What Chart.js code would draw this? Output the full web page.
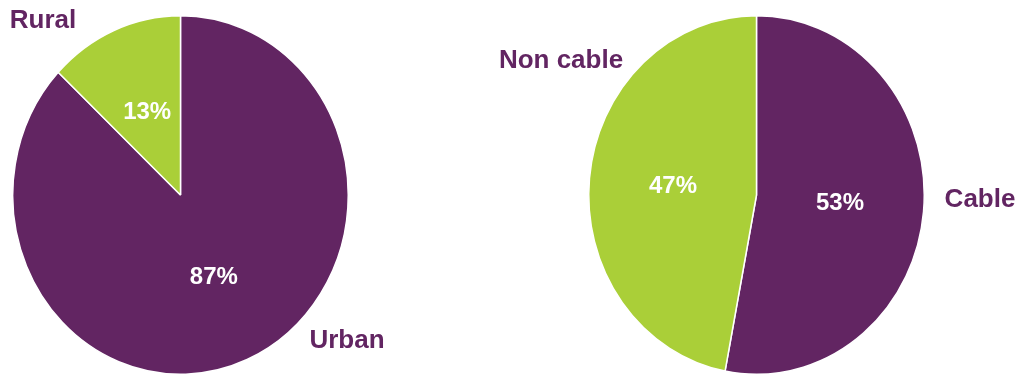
<!DOCTYPE html>
<html>
<head>
<meta charset="utf-8">
<script src="https://cdn.jsdelivr.net/npm/chart.js@4"></script>
<style>
  html, body { margin: 0; padding: 0; background: #ffffff; overflow: hidden; }
  #left { position: absolute; left: 0; top: 0; }
  #right { position: absolute; left: 400px; top: 0; }
</style>
</head>
<body>
<canvas id="left" width="400" height="374"></canvas>
<canvas id="right" width="625" height="374"></canvas>
<script>
// ---- data ----
const areaLabels = ['Urban', 'Rural'];
const areaValues = [87, 13];
const cableLabels = ['Cable', 'Non cable'];
const cableValues = [53, 47];

// ---- style ----
const PURPLE = '#622562';
const GREEN = '#AACF38';
const FONT = '"Liberation Sans", Arial, sans-serif';
const STRETCH_Y = 1.069; // pie is drawn slightly taller than wide

const ellipsePlugin = {
  id: 'ellipse',
  beforeDatasetsDraw(chart) {
    const meta = chart.getDatasetMeta(0);
    const arc = meta.data[0];
    const ctx = chart.ctx;
    ctx.save();
    ctx.translate(arc.x, arc.y);
    ctx.scale(1, STRETCH_Y);
    ctx.translate(-arc.x, -arc.y);
  },
  afterDatasetsDraw(chart) {
    chart.ctx.restore();
  },
  afterDraw(chart, args, opts) {
    const ctx = chart.ctx;
    const meta = chart.getDatasetMeta(0);
    const ds = chart.data.datasets[0];
    ctx.save();
    ctx.textAlign = 'center';
    ctx.textBaseline = 'middle';
    // percentage labels inside slices
    ctx.fillStyle = '#ffffff';
    ctx.font = 'bold 24px ' + FONT;
    meta.data.forEach((arc, i) => {
      const p = arc.tooltipPosition();
      const y = arc.y + (p.y - arc.y) * STRETCH_Y;
      ctx.fillText(ds.data[i] + '%', p.x, y);
    });
    // category labels outside
    ctx.fillStyle = PURPLE;
    ctx.font = 'bold 26px ' + FONT;
    chart.data.labels.forEach((lab, i) => {
      const pos = opts.positions[i];
      ctx.fillText(lab, pos.x, pos.y);
    });
    ctx.restore();
  }
};

function makePie(id, labels, values, padding, positions) {
  return new Chart(document.getElementById(id), {
    type: 'pie',
    data: {
      labels: labels,
      datasets: [{
        data: values,
        backgroundColor: [PURPLE, GREEN],
        borderColor: '#ffffff',
        borderWidth: 1.5
      }]
    },
    options: {
      responsive: false,
      devicePixelRatio: 1,
      animation: false,
      layout: { padding: padding },
      plugins: {
        legend: { display: false },
        tooltip: { enabled: false },
        ellipse: { positions: positions }
      }
    },
    plugins: [ellipsePlugin]
  });
}

makePie('left', areaLabels, areaValues,
  { left: 12, right: 51, top: 26.5, bottom: 10.5 },
  [{ x: 347, y: 341 }, { x: 43, y: 21 }]);

makePie('right', cableLabels, cableValues,
  { left: 188, right: 100, top: 26.5, bottom: 10.5 },
  [{ x: 580, y: 200 }, { x: 161, y: 61 }]);
</script>
</body>
</html>
